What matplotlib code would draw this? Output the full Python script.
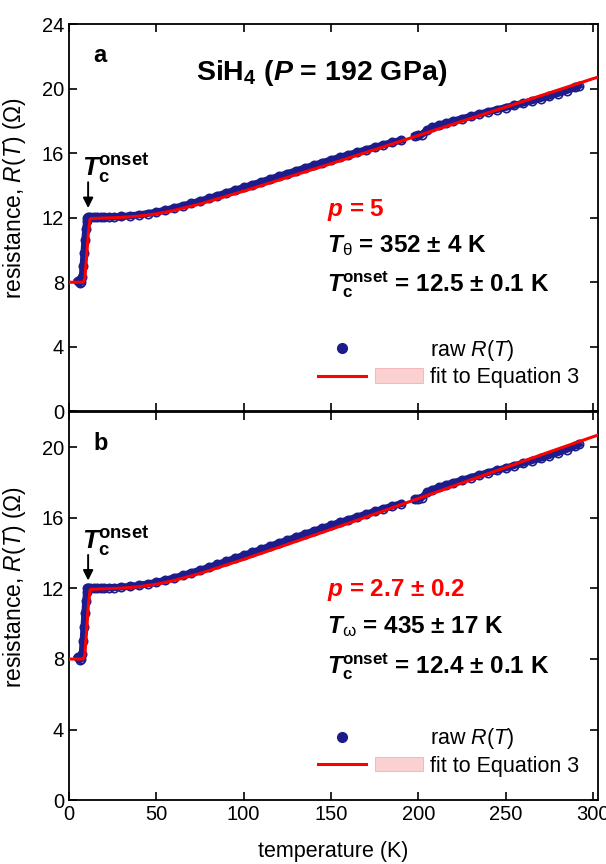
import matplotlib.pyplot as plt
import numpy as np
from matplotlib.lines import Line2D
from matplotlib.patches import Patch
from matplotlib.legend_handler import HandlerTuple

plt.rcParams['font.family'] = ['Liberation Sans', 'DejaVu Sans']
plt.rcParams['mathtext.fontset'] = 'custom'
plt.rcParams['mathtext.rm'] = 'Liberation Sans'
plt.rcParams['mathtext.it'] = 'Liberation Sans:italic'
plt.rcParams['mathtext.bf'] = 'Liberation Sans:bold'
plt.rcParams['mathtext.bfit'] = 'Liberation Sans:italic:bold'

# raw R(T)
temp_raw = np.array([5, 6, 7, 7.5, 8, 8.5, 9, 9.5, 10, 10.5, 11, 12, 14, 16, 18, 20, 23, 26,
                     30, 35, 40, 45, 50, 55, 60, 65, 70, 75, 80, 85, 90, 95, 100, 105, 110,
                     115, 120, 125, 130, 135, 140, 145, 150, 155, 160, 165, 170, 175, 180,
                     185, 190, 198, 200, 202, 205, 208, 212, 216, 220, 225, 230, 235, 240,
                     245, 250, 255, 260, 265, 270, 275, 280, 285, 290, 292])
res_raw = np.array([8.1, 7.95, 8.0, 8.3, 9.0, 9.8, 10.6, 11.3, 11.8, 12.0, 12.05, 12.05, 12.03,
                    12.02, 12.02, 12.03, 12.04, 12.05, 12.08, 12.12, 12.18, 12.26, 12.35, 12.47,
                    12.6, 12.74, 12.89, 13.04, 13.2, 13.37, 13.54, 13.71, 13.88, 14.05, 14.22,
                    14.4, 14.57, 14.74, 14.91, 15.08, 15.25, 15.42, 15.58, 15.75, 15.9, 16.06,
                    16.21, 16.37, 16.52, 16.67, 16.8, 17.05, 17.1, 17.15, 17.45, 17.6, 17.75,
                    17.88, 18.0, 18.14, 18.29, 18.43, 18.57, 18.7, 18.83, 18.97, 19.1, 19.24,
                    19.38, 19.53, 19.7, 19.88, 20.08, 20.18])

# fitted curves (Equation 3)
temp_fit = np.array([0, 8, 9, 10, 11, 12, 12.5, 15, 20, 30, 40, 50, 60, 75, 100, 125, 150,
                     175, 200, 225, 250, 275, 300, 303])
res_fit_a = np.array([8.0, 8.0, 8.2, 9.5, 11.0, 11.9, 11.95, 11.96, 11.98, 12.02, 12.1, 12.24,
                      12.45, 12.85, 13.65, 14.5, 15.35, 16.22, 17.1, 17.98, 18.86, 19.74, 20.62,
                      20.72])
res_fit_b = np.array([8.0, 8.0, 8.2, 9.5, 11.0, 11.9, 11.95, 11.96, 11.98, 12.02, 12.1, 12.24,
                      12.45, 12.85, 13.65, 14.5, 15.35, 16.22, 17.1, 17.98, 18.86, 19.74, 20.6,
                      20.7])

navy = '#1c1c8c'
red = '#ff0000'

fig = plt.figure(figsize=(6.06, 8.64), dpi=100)
ax_a = fig.add_axes([0.114, 0.524, 0.873, 0.448])
ax_b = fig.add_axes([0.114, 0.074, 0.873, 0.449])

panels = [
    (ax_a, res_fit_a, 24, 'a', r'$\mathbfit{T}_\mathrm{\theta}$ = 352 ± 4 K', '12.5', '5',
     (15.1, 14.2, 12.6), (12.1, 9.85, 7.4)),
    (ax_b, res_fit_b, 22, 'b', r'$\mathbfit{T}_\mathrm{\omega}$ = 435 ± 17 K', '12.4', '2.7 ± 0.2',
     (14.7, 13.9, 12.45), (11.55, 9.45, 7.15)),
]

for ax, res_fit, ytop, letter, t_line, tc_val, p_val, tc_pos, txt_y in panels:
    early = temp_raw < 195
    late = temp_raw > 195
    for m in (early, late):
        ax.plot(temp_raw[m], res_raw[m], '-', color=navy, lw=5, zorder=2)
        ax.plot(temp_raw[m], res_raw[m], 'o', ms=6, mfc='none', mec=navy, mew=1.2, zorder=2)
    ax.plot(temp_fit, res_fit, color=red, lw=2.2, zorder=3)

    ax.set_xlim(0, 303)
    ax.set_ylim(0, ytop)
    ax.set_xticks(np.arange(0, 301, 50))
    ax.set_yticks(np.arange(0, 21 if ytop < 24 else 25, 4))
    ax.tick_params(direction='in', length=6, width=1.2, top=True, right=True, labelsize=14.5)
    for s in ax.spines.values():
        s.set_linewidth(1.3)
    ax.set_ylabel(r'resistance, $\mathit{R}$($\mathit{T}$) ($\Omega$)', fontsize=16.5)
    ax.yaxis.set_label_coords(-0.078, 0.55)

    ax.text(13.7, ytop * 0.92, letter, fontsize=17, fontweight='bold', ha='left', va='center')

    # Tc onset marker
    ax.text(7.4, tc_pos[0], r'$\mathbfit{T}_\mathbf{c}^\mathbf{onset}$', fontsize=19,
            ha='left', va='center')
    ax.annotate('', xy=(10.9, tc_pos[2]), xytext=(10.9, tc_pos[1]),
                arrowprops=dict(arrowstyle='-|>', color='black', lw=1.4,
                                mutation_scale=15, shrinkA=0, shrinkB=0))

    ax.text(148, txt_y[0], r'$\mathbfit{p}$ = ' + p_val, fontsize=17.5, fontweight='bold',
            color=red, ha='left', va='baseline')
    ax.text(148, txt_y[1], t_line, fontsize=17.5, fontweight='bold', ha='left', va='baseline')
    ax.text(148, txt_y[2], r'$\mathbfit{T}_\mathbf{c}^\mathbf{onset}$ = ' + tc_val + ' ± 0.1 K',
            fontsize=17.5, fontweight='bold', ha='left', va='baseline')

    raw_h = (Line2D([], [], marker='o', ls='none', ms=7, mfc=navy, mec=navy),
             Patch(facecolor='none', edgecolor='none'))
    fit_h = (Line2D([], [], color=red, lw=2.2),
             Patch(facecolor='#fbd0d0', edgecolor='#f4b0b0', lw=0.6))
    ax.legend([raw_h, fit_h], [r'raw $\mathit{R}$($\mathit{T}$)', 'fit to Equation 3'],
              handler_map={tuple: HandlerTuple(ndivide=None, pad=0.4)},
              loc='upper left', bbox_to_anchor=(0.47, 0.19), frameon=False,
              borderpad=0, borderaxespad=0, handlelength=4.9, handleheight=0.65,
              handletextpad=0.3, labelspacing=0.2, fontsize=15.5)

ax_a.tick_params(labelbottom=False)
ax_a.text(144.6, 21.0, r'SiH$_\mathbf{4}$ ($\mathbfit{P}$ = 192 GPa)', fontsize=20.5,
          fontweight='bold', ha='center', va='center')
ax_b.set_xlabel('temperature (K)', fontsize=15.5, labelpad=12)

fig.savefig('out.png', dpi=100)
